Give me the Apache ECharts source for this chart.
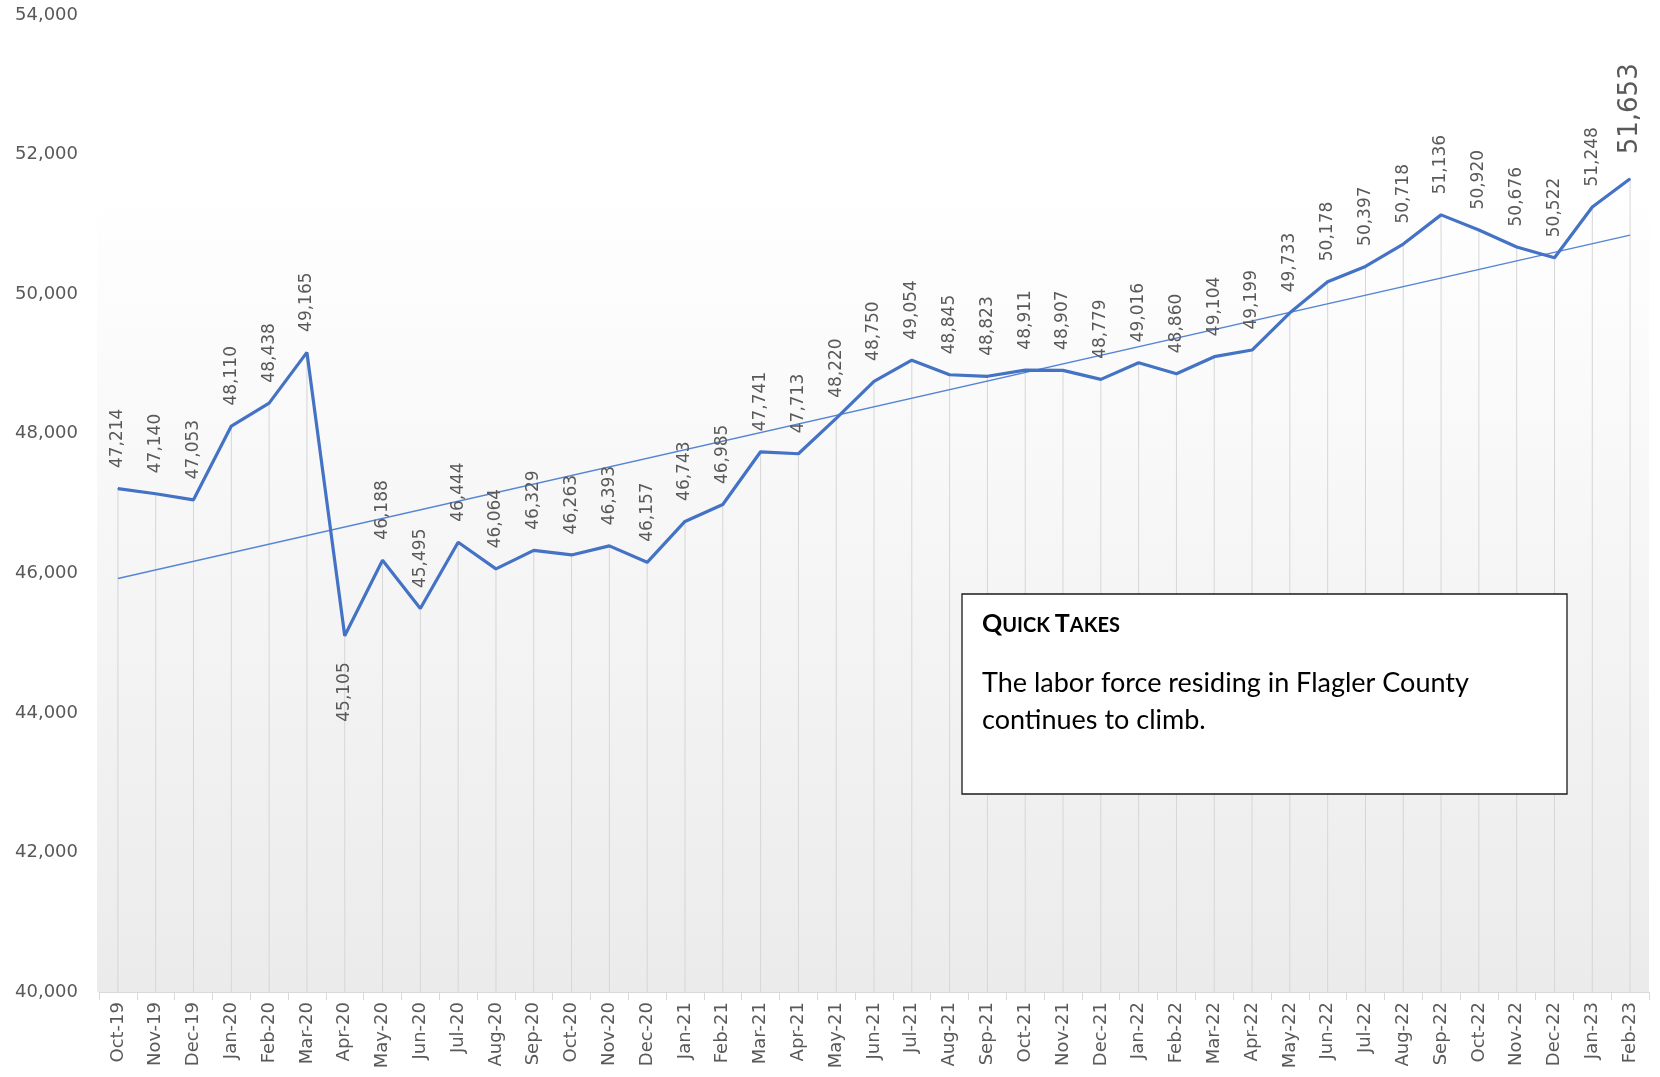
<!DOCTYPE html>
<html>
<head>
<meta charset="utf-8">
<script src="https://cdn.jsdelivr.net/npm/echarts@6/dist/echarts.min.js"></script>
<style>
html,body{margin:0;padding:0;background:#fff;}
#chart{width:1660px;height:1077px;}
</style>
</head>
<body>
<div id="chart"></div>
<script>
const categories = ['Oct-19','Nov-19','Dec-19','Jan-20','Feb-20','Mar-20','Apr-20','May-20','Jun-20','Jul-20','Aug-20','Sep-20','Oct-20','Nov-20','Dec-20','Jan-21','Feb-21','Mar-21','Apr-21','May-21','Jun-21','Jul-21','Aug-21','Sep-21','Oct-21','Nov-21','Dec-21','Jan-22','Feb-22','Mar-22','Apr-22','May-22','Jun-22','Jul-22','Aug-22','Sep-22','Oct-22','Nov-22','Dec-22','Jan-23','Feb-23'];
const laborForce = [47214,47140,47053,48110,48438,49165,45105,46188,45495,46444,46064,46329,46263,46393,46157,46743,46985,47741,47713,48220,48750,49054,48845,48823,48911,48907,48779,49016,48860,49104,49199,49733,50178,50397,50718,51136,50920,50676,50522,51248,51653];
const trendEnds = [45925, 50845];
const yTicks = [40000, 42000, 44000, 46000, 48000, 50000, 52000, 54000];
const quickTakesText = ['The labor force residing in Flagler County', 'continues to climb.'];

const fmt = v => v.toLocaleString('en-US');
const lastIdx = laborForce.length - 1;
const lineData = laborForce.map((v, i) => {
  if (i === 6) {
    return {value: v, label: {position: 'bottom', align: 'right', distance: 26}};
  }
  if (i === lastIdx) {
    return {value: v, label: {fontSize: 26, distance: 24}};
  }
  return v;
});

const chart = echarts.init(document.getElementById('chart'));
chart.setOption({
  animation: false,
  backgroundColor: '#ffffff',
  grid: {left: 99, right: 11, top: 15, bottom: 85, containLabel: false},
  xAxis: {
    type: 'category',
    data: categories,
    boundaryGap: true,
    axisLine: {lineStyle: {color: '#d9d9d9', width: 1}},
    axisTick: {show: true, length: 8, lineStyle: {color: '#d9d9d9'}},
    axisLabel: {rotate: 90, interval: 0, fontFamily: 'DejaVu Sans', fontSize: 18, color: '#595959', margin: 10},
    splitLine: {show: false}
  },
  yAxis: {
    type: 'value',
    min: yTicks[0],
    max: yTicks[yTicks.length - 1],
    interval: 2000,
    axisLine: {show: false},
    axisTick: {show: false},
    splitLine: {show: false},
    axisLabel: {formatter: v => fmt(v), fontFamily: 'DejaVu Sans', fontSize: 18, color: '#595959', margin: 21}
  },
  series: [
    {
      type: 'bar',
      data: laborForce,
      barWidth: 1,
      itemStyle: {color: '#d6d6d6'},
      silent: true,
      z: 1,
      markArea: {
        silent: true,
        itemStyle: {
          color: {type: 'linear', x: 0, y: 0, x2: 0, y2: 1, colorStops: [
            {offset: 0, color: '#ffffff'}, {offset: 1, color: '#ebebeb'}
          ]}
        },
        data: [[{yAxis: 51620, x: 97}, {yAxis: 40000, x: 1649}]]
      }
    },
    {
      type: 'line',
      data: trendEnds.map((v, i) => [i === 0 ? 0 : lastIdx, v]),
      showSymbol: false,
      lineStyle: {color: '#5585d4', width: 1.4},
      z: 3,
      silent: true
    },
    {
      type: 'line',
      data: lineData,
      symbol: 'circle',
      symbolSize: 1,
      showSymbol: true,
      showAllSymbol: true,
      itemStyle: {color: '#4472C4'},
      lineStyle: {color: '#4472C4', width: 3.2},
      z: 4,
      labelLayout: {hideOverlap: false},
      label: {
        show: true,
        position: 'top',
        rotate: 90,
        align: 'left',
        verticalAlign: 'middle',
        distance: 20,
        formatter: p => fmt(p.value),
        fontFamily: 'DejaVu Sans',
        fontSize: 17,
        color: '#595959'
      }
    }
  ],
  graphic: [
    {
      type: 'rect',
      shape: {x: 962, y: 594, width: 605, height: 200},
      style: {fill: '#ffffff', stroke: '#1a1a1a', lineWidth: 1.3},
      z: 100
    },
    {
      type: 'text',
      x: 982, y: 611,
      z: 101,
      style: {
        text: '{b|Q}{s|UICK }{b|T}{s|AKES}',
        rich: {
          b: {fontFamily: 'Lato', fontWeight: 'bold', fontSize: 25, fill: '#000', verticalAlign: 'bottom'},
          s: {fontFamily: 'Lato', fontWeight: 'bold', fontSize: 20, fill: '#000', verticalAlign: 'bottom'}
        }
      }
    },
    {
      type: 'text',
      x: 982, y: 665,
      z: 101,
      style: {
        text: quickTakesText.join('\n'),
        fontFamily: 'Lato',
        fontSize: 27,
        lineHeight: 37,
        fill: '#000'
      }
    }
  ]
});
</script>
</body>
</html>
